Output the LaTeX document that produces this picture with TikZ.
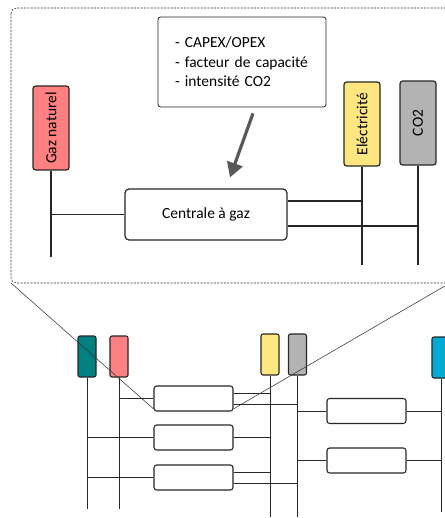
\documentclass[tikz,border=0pt]{standalone}
\usepackage{fontspec}
\setmainfont{Carlito}
\usepackage{graphicx}
\usetikzlibrary{arrows.meta}

\definecolor{saumon}{HTML}{FF8080}
\definecolor{jaune}{HTML}{FFE680}
\definecolor{gris}{HTML}{B3B3B3}
\definecolor{sarcelle}{HTML}{008080}
\definecolor{cyan2}{HTML}{00AAD4}

\tikzset{
  vecteur/.style={draw=black!85, line width=0.9pt, rounded corners=2pt, inner sep=0pt,
    minimum width=27pt, minimum height=63pt},
  petit/.style={draw=black!85, line width=0.8pt, rounded corners=1.5pt, inner sep=0pt,
    minimum width=13.5pt, minimum height=30.75pt},
  unite/.style={draw=black!85, line width=0.8pt, rounded corners=2pt, fill=white,
    minimum width=59.25pt, minimum height=18.75pt},
  bus/.style={line width=0.75pt, black!85},
  loupe/.style={line width=0.4pt, black!80},
}

\begin{document}
\begin{tikzpicture}[x=0.75pt, y=-0.75pt, font=\fontsize{11.6}{14.6}\selectfont]
\useasboundingbox (0,0) rectangle (445,518);

% cadre du zoom
\draw[loupe, dash pattern=on 1.5pt off 1pt, rounded corners=4pt] (11,8) rectangle (450,283);
\coordinate (fsw) at (11,283);
\coordinate (fse) at (450,283);

% partie agrandie
\node[draw=black!85, line width=0.6pt, rounded corners=2pt, minimum width=126pt, minimum height=67.5pt,
  text width=100.5pt, align=left, inner xsep=12.75pt] (info) at (242,62)
  {- CAPEX/OPEX\\- facteur de capacité\\- intensité CO2};
\node[vecteur, fill=saumon] (gaz) at (51,128) {\rotatebox{90}{Gaz naturel}};
\node[vecteur, fill=jaune] (elec) at (362,124) {\rotatebox{90}{Eléctricité}};
\node[vecteur, fill=gris] (coo) at (418,123) {\rotatebox{90}{CO2}};
\node[draw=black!85, line width=0.9pt, rounded corners=3pt, minimum width=121.5pt, minimum height=38.25pt]
  (centrale) at (206,214.5) {Centrale à gaz};

\coordinate (gazend) at (51,257);
\coordinate (elecend) at (362,265);
\coordinate (cooend) at (418,265);
\draw[bus, line width=0.9pt] (gaz.south) -- (gazend);
\draw[bus, line width=0.9pt] (elec.south) -- (elecend);
\draw[bus, line width=0.9pt] (coo.south) -- (cooend);
\draw[bus, line width=0.9pt] (centrale.west) -- (centrale.west -| gaz.south);
\draw[bus, line width=0.9pt] (centrale.east |- 0,201) -- (elec.south |- 0,201);
\draw[bus, line width=0.9pt] (centrale.east |- 0,226) -- (coo.south |- 0,226);

\draw[line width=2.4pt, black!65, -{Triangle[width=12pt,length=11pt]}]
  ([xshift=8.25pt,yshift=-4.5pt]info.south) -- ([xshift=18pt,yshift=8.25pt]centrale.north);

% vue d'ensemble
\node[petit, fill=sarcelle] (bt) at (87,356.5) {};
\node[petit, fill=saumon] (bg) at (119,356.5) {};
\node[petit, fill=jaune] (be) at (270,354.5) {};
\node[petit, fill=gris] (bc) at (297.5,354.5) {};
\node[petit, fill=cyan2] (bh) at (441,357.5) {};

\coordinate (btend) at (87,509);
\coordinate (bgend) at (119,509);
\coordinate (beend) at (270,517);
\coordinate (bcend) at (297.5,517);
\coordinate (bhend) at (441,512);
\foreach \b in {bt,bg,be,bc,bh}
  \draw[bus] (\b.south) -- (\b end);

\node[unite] (u1) at (193.5,398.5) {};
\node[unite] (u2) at (193.5,437.5) {};
\node[unite] (u3) at (193.5,477.5) {};
\node[unite] (u4) at (366.5,411) {};
\node[unite] (u5) at (366.5,460.5) {};

\draw[bus] (u1.west) -- (u1.west -| bg.south);
\draw[bus] (u1.east |- 0,393) -- (be.south |- 0,393);
\draw[bus] (u1.east |- 0,404) -- (bc.south |- 0,404);
\draw[bus] (u2.west) -- (u2.west -| bt.south);
\draw[bus] (u2.east) -- (u2.east -| be.south);
\draw[bus] (u3.west) -- (u3.west -| bt.south);
\draw[bus] (u3.east |- 0,472) -- (be.south |- 0,472);
\draw[bus] (u3.east |- 0,483) -- (bc.south |- 0,483);
\draw[bus] (u4.west) -- (u4.west -| bc.south);
\draw[bus] (u4.east) -- (u4.east -| bh.south);
\draw[bus] (u5.west) -- (u5.west -| bc.south);
\draw[bus] (u5.east) -- (u5.east -| bh.south);

\draw[loupe] (fsw) -- ([yshift=2pt]u1.south west);
\draw[loupe] (fse) -- ([yshift=2pt]u1.south east);
\end{tikzpicture}
\end{document}
